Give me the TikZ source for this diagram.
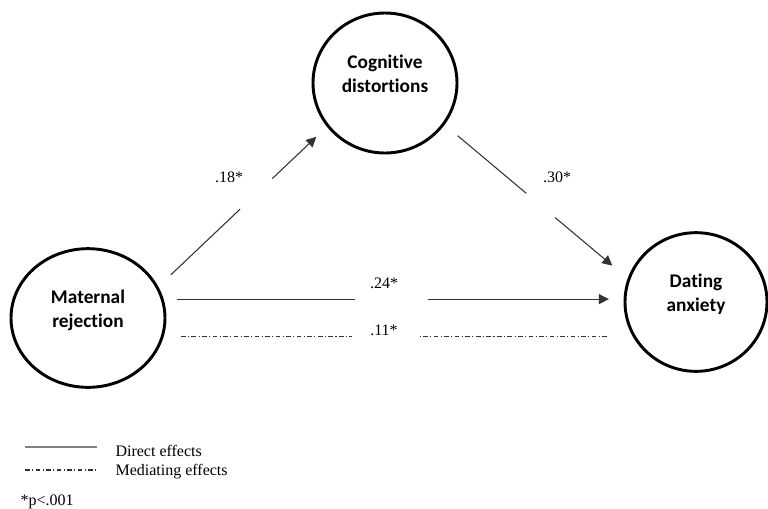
\documentclass[tikz,border=0pt]{standalone}
\usepackage{fontspec}
\setmainfont{Liberation Serif}
\newfontfamily\constructfont[Ligatures=NoCommon]{Carlito}
\usetikzlibrary{shapes.geometric,arrows.meta}

\begin{document}
\begin{tikzpicture}[
		x=0.75pt, y=-0.75pt,
		line width=0.8pt,
		every node/.style={font=\fontsize{12}{14}\selectfont},
		construct/.style={ellipse, draw, line width=2.2pt, inner sep=0pt, align=center,
			text depth=14pt,
			font=\constructfont\bfseries\fontsize{14.5}{18}\selectfont},
		direct/.style={draw=black!80},
		mediating/.style={draw=black!80, dash pattern=on 3.5pt off 1.8pt on 0.8pt off 1.8pt},
		effect/.style={direct, -{Triangle[length=7.5pt, width=7.5pt]}},
		gap/.style={fill=white, inner sep=0pt, minimum height=4pt, sloped},
		coef/.style={inner sep=1pt},
		legend/.style={anchor=west, inner sep=0pt}
		]
	\useasboundingbox (0, 0) rectangle (768, 508);
	
	% Constructs
	\node[construct, minimum width=108pt, minimum height=105pt] (cd) at (385, 83) {Cognitive\\distortions};
	\node[construct, minimum width=115.5pt, minimum height=104pt] (mr) at (88, 318) {Maternal\\rejection};
	\node[construct, minimum width=106.5pt, minimum height=104pt] (da) at (696, 302) {Dating\\anxiety};
	
	% Paths a and b
	\draw[effect, shorten <=13pt, shorten >=11pt] (mr.24) -- node[gap, pos=0.58, minimum width=33pt] {} (cd.217);
	\draw[effect, shorten <=12.8pt, shorten >=15pt] (cd.325) -- node[gap, pos=0.525, minimum width=28pt] {} (da.161);
	
	% Direct effect
	\draw[effect, shorten <=10pt, shorten >=11pt] (mr.14) -- node[gap, pos=0.496, minimum width=55pt] {} (mr.14 -| da.west);
	
	% Mediating effect
	\draw[mediating, shorten <=13pt, shorten >=11pt] (mr.346) -- node[gap, pos=0.482, minimum width=50pt] {} (mr.346 -| da.west);
	
	% Coefficients
	\node[coef] (c18) at (229, 177) {.18*};
	\node[coef] (c30) at (557, 177) {.30*};
	\node[coef] (c24) at (384, 283) {.24*};
	\node[coef] (c11) at (384, 330) {.11*};
	
	% Legend
	\draw[direct, draw=black!50] (25, 447) -- (97, 447);
	\draw[mediating] (25, 470) -- (97, 470);
	\node[legend] (ldirect) at (115, 451) {Direct effects};
	\node[legend] (lmediating) at (115, 472) {Mediating effects};
	\node[legend] (signif) at (20, 502) {*p<.001};
	
\end{tikzpicture}
\end{document}
